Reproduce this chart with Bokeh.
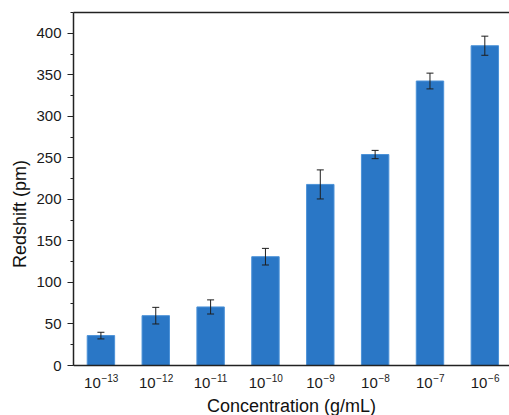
from bokeh.plotting import figure
from bokeh.models import (ColumnDataSource, Range1d, FixedTicker, SingleIntervalTicker,
                          LinearAxis, Whisker, TeeHead, Span)
from bokeh.core.properties import value
from bokeh.embed import file_html
from bokeh.resources import INLINE

# ---- data ----
tick_base = ["10"] * 8
tick_exp = ["\u221213", "\u221212", "\u221211", "\u221210", "\u22129", "\u22128", "\u22127", "\u22126"]
positions = [1, 2, 3, 4, 5, 6, 7, 8]
redshift = [36, 60, 70.5, 131, 218, 254, 342.5, 385]
error = [4, 10, 8.5, 10, 17.5, 5, 9.5, 11.5]
x_label = "Concentration (g/mL)"
y_label = "Redshift (pm)"

X0, X1 = 0.5, 8.45
Y0, Y1 = 0, 425

# layout (pixels)
W, H = 509, 415
FRAME_TOP, AXIS_Y = 12, 365
units_per_px = (Y1 - Y0) / (AXIS_Y - FRAME_TOP)
Y_VIEW0 = Y0 - (H - AXIS_Y) * units_per_px   # frame extends below the x axis for the tick texts

FONT = "Liberation Sans"
TXT = "#1a1a1a"
BASE_PX, EXP_PX = 15, 10

def text_width(s, px):
    wmap = {"\u2212": 0.584}
    return sum(wmap.get(c, 0.556) for c in s) * px

split = [(text_width(b, BASE_PX) - text_width(e, EXP_PX)) / 2 for b, e in zip(tick_base, tick_exp)]

src = ColumnDataSource(dict(
    x=positions,
    top=redshift,
    upper=[v + e for v, e in zip(redshift, error)],
    lower=[v - e for v, e in zip(redshift, error)],
))
lab = ColumnDataSource(dict(
    x=positions, y=[Y0] * len(positions), base=tick_base, exp=tick_exp,
    xo_base=split, xo_exp=[s + 0.6 for s in split],
))

p = figure(width=W, height=H, output_backend="svg", toolbar_location=None,
           x_range=Range1d(X0, X1), y_range=Range1d(Y_VIEW0, Y1),
           x_axis_location=None,
           min_border_left=73, min_border_right=0, min_border_top=FRAME_TOP, min_border_bottom=0,
           background_fill_color="white", border_fill_color="white")
p.outline_line_color = None
p.grid.visible = False

p.vbar(x="x", top="top", width=0.5, bottom=Y0, source=src,
       fill_color="#2A77C6", line_color="#4C92D8", line_width=1)

w = Whisker(base="x", upper="upper", lower="lower", source=src, level="overlay",
            line_color="#1e1e1e", line_width=1,
            upper_head=TeeHead(size=7, line_color="#1e1e1e", line_width=1),
            lower_head=TeeHead(size=7, line_color="#1e1e1e", line_width=1))
p.add_layout(w)

# bottom axis line
p.add_layout(Span(location=Y0, dimension="width", line_color="#222222", line_width=1.5))

# x tick labels: "10" with superscript exponent
p.text(x="x", y="y", text="base", x_offset="xo_base", y_offset=17.7, source=lab,
       text_align="right", text_baseline="alphabetic",
       text_font=value(FONT), text_font_size=f"{BASE_PX}px", text_color=TXT)
p.text(x="x", y="y", text="exp", x_offset="xo_exp", y_offset=12.5, source=lab,
       text_align="left", text_baseline="alphabetic",
       text_font=value(FONT), text_font_size=f"{EXP_PX}px", text_color=TXT)
# x axis title
p.text(x=[(X0 + X1) / 2], y=[Y0], text=[x_label], y_offset=40,
       text_align="center", text_baseline="alphabetic",
       text_font=value(FONT), text_font_size="18px", text_color="#111111")

# y axis
ya = p.yaxis[0]
ya.bounds = (Y0, Y1)
ya.ticker = SingleIntervalTicker(interval=50, num_minor_ticks=2)
ya.major_tick_out = 6
ya.major_tick_in = 0
ya.minor_tick_out = 3
ya.minor_tick_in = 0
ya.axis_label = y_label
ya.axis_label_standoff = 3
ya.axis_line_color = "#222222"
ya.axis_line_width = 1.5
ya.major_tick_line_color = "#222222"
ya.minor_tick_line_color = "#222222"
ya.major_tick_line_width = 1.2
ya.minor_tick_line_width = 1.2
ya.major_label_text_font = FONT
ya.major_label_text_font_size = "15px"
ya.major_label_text_color = TXT
ya.major_label_standoff = 6
ya.axis_label_text_font = FONT
ya.axis_label_text_font_size = "18px"
ya.axis_label_text_font_style = "normal"
ya.axis_label_text_color = "#111111"

# top border line
top = LinearAxis(ticker=FixedTicker(ticks=[]), major_tick_out=0, minor_tick_out=0,
                 axis_line_color="#222222", axis_line_width=1.5)
p.add_layout(top, "above")

open("out.html", "w").write(file_html(p, INLINE))
